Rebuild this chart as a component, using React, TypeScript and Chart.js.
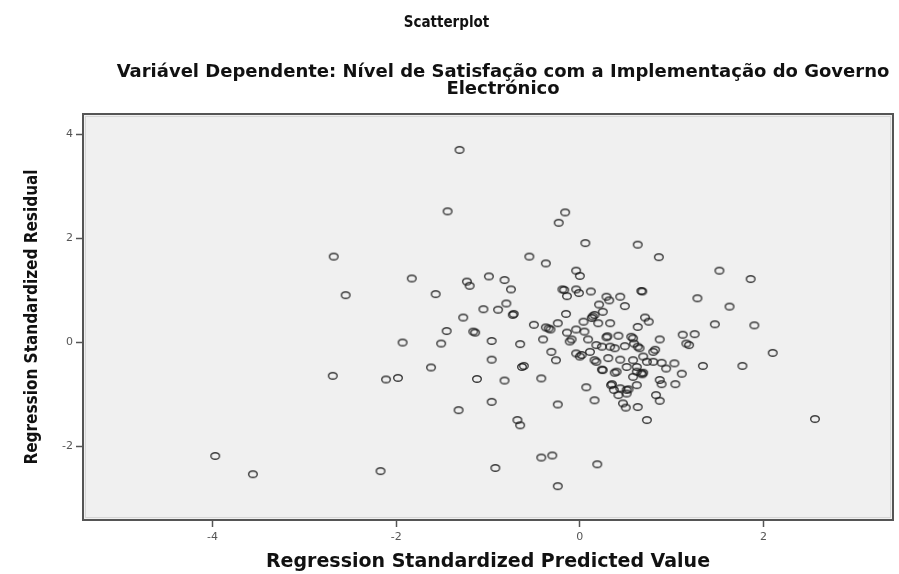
import React, { useEffect, useRef } from "react";
import { Chart, registerables } from "chart.js";

Chart.register(...registerables);

// Regression Standardized Predicted Value (x)
const predicted = [
  -3.97, -3.56, -2.68, -2.55, -2.69, -2.17, -2.11, -1.98, -1.93, -1.83,
  -1.62, -1.57, -1.51, -1.45, -1.44, -1.31, -1.32, -1.27, -1.23, -1.2,
  -1.16, -1.14, -1.12, -1.05, -0.99, -0.96, -0.96, -0.96, -0.92, -0.89,
  -0.82, -0.82, -0.8, -0.75, -0.72, -0.73, -0.68, -0.65, -0.65, -0.63,
  -0.61, -0.55, -0.5, -0.42, -0.42, -0.4, -0.37, -0.37, -0.34, -0.32,
  -0.31, -0.3, -0.26, -0.24, -0.24, -0.24, -0.23, -0.19, -0.17, -0.16,
  -0.15, -0.14, -0.14, -0.11, -0.09, -0.04, -0.04, -0.04, -0.04, 0.0,
  -0.01, 0.0, 0.02, 0.04, 0.05, 0.06, 0.07, 0.09, 0.11, 0.12,
  0.14, 0.16, 0.13, 0.16, 0.16, 0.18, 0.18, 0.19, 0.2, 0.21,
  0.24, 0.24, 0.25, 0.25, 0.29, 0.29, 0.3, 0.31, 0.32, 0.33,
  0.33, 0.34, 0.35, 0.37, 0.38, 0.38, 0.4, 0.42, 0.42, 0.44,
  0.44, 0.44, 0.47, 0.49, 0.49, 0.5, 0.51, 0.51, 0.51, 0.53,
  0.56, 0.58, 0.58, 0.58, 0.59, 0.62, 0.62, 0.62, 0.63, 0.63,
  0.63, 0.63, 0.65, 0.67, 0.68, 0.67, 0.68, 0.69, 0.69, 0.71,
  0.73, 0.73, 0.75, 0.8, 0.8, 0.82, 0.83, 0.86, 0.87, 0.87,
  0.87, 0.89, 0.89, 0.94, 1.03, 1.04, 1.11, 1.12, 1.16, 1.19,
  1.25, 1.28, 1.34, 1.47, 1.52, 1.63, 1.77, 1.86, 1.9, 2.1,
  2.56,
];

// Regression Standardized Residual (y)
const residual = [
  -2.18, -2.53, 1.65, 0.91, -0.64, -2.47, -0.71, -0.68, 0.0, 1.23,
  -0.48, 0.93, -0.02, 0.22, 2.52, 3.7, -1.3, 0.48, 1.17, 1.09,
  0.21, 0.19, -0.7, 0.64, 1.27, 0.03, -0.33, -1.14, -2.41, 0.63,
  1.2, -0.73, 0.75, 1.02, 0.55, 0.53, -1.49, -1.59, -0.03, -0.47,
  -0.45, 1.65, 0.34, -0.69, -2.21, 0.06, 1.52, 0.29, 0.27, 0.25,
  -0.18, -2.17, -0.34, 0.37, -1.19, -2.76, 2.3, 1.02, 1.01, 2.5,
  0.55, 0.89, 0.19, 0.02, 0.06, 1.38, 1.02, 0.25, -0.21, 1.28,
  0.95, -0.27, -0.24, 0.4, 0.21, 1.91, -0.86, 0.06, -0.18, 0.98,
  0.5, 0.53, 0.47, -0.34, -1.11, -0.05, -0.37, -2.34, 0.37, 0.73,
  -0.08, -0.52, 0.59, -0.53, 0.88, 0.1, 0.12, -0.3, 0.81, 0.37,
  -0.08, -0.82, -0.8, -0.91, -0.11, -0.58, -0.56, 0.13, -1.01, 0.88,
  -0.33, -0.88, -1.17, 0.7, -0.07, -1.25, -0.47, -0.91, -0.98, -0.9,
  0.11, 0.08, -0.34, -0.66, -0.02, -0.47, -0.56, -0.82, 1.88, 0.3,
  -0.08, -1.24, -0.11, 0.99, 0.98, -0.59, -0.61, -0.27, -0.58, 0.48,
  -0.37, -1.49, 0.4, -0.18, -0.37, -0.14, -1.01, 1.64, 0.06, -1.12,
  -0.72, -0.8, -0.39, -0.5, -0.4, -0.8, -0.6, 0.15, -0.02, -0.05,
  0.16, 0.85, -0.45, 0.35, 1.38, 0.69, -0.45, 1.22, 0.33, -0.2,
  -1.47,
];

const xTicks = [-4, -2, 0, 2];
const yTicks = [-2, 0, 2, 4];

const chartTitle = "Scatterplot";
const chartSubtitle = [
  "Variável Dependente: Nível de Satisfação com a Implementação do Governo",
  "Electrónico",
];
const xTitle = "Regression Standardized Predicted Value";
const yTitle = "Regression Standardized Residual";

const CONDENSED = "'DejaVu Sans Condensed', 'DejaVu Sans', sans-serif";
const WIDE = "'DejaVu Sans', Verdana, sans-serif";

function makeMarker(): HTMLCanvasElement {
  const c = document.createElement("canvas");
  c.width = 12;
  c.height = 10;
  const g = c.getContext("2d")!;
  g.strokeStyle = "rgba(25,25,25,0.85)";
  g.lineWidth = 1.4;
  g.beginPath();
  g.ellipse(6, 5, 4.3, 3.3, 0, 0, Math.PI * 2);
  g.stroke();
  return c;
}

const framePlugin = {
  id: "plotFrame",
  beforeDraw(chart: any) {
    const { ctx, chartArea } = chart;
    const { left, top, right, bottom } = chartArea;
    ctx.save();
    ctx.fillStyle = "#f0f0f0";
    ctx.fillRect(left, top, right - left, bottom - top);
    ctx.restore();
  },
  afterDraw(chart: any) {
    const { ctx, chartArea } = chart;
    const { left, top, right, bottom } = chartArea;
    ctx.save();
    ctx.strokeStyle = "#d6d6d6";
    ctx.lineWidth = 1;
    ctx.strokeRect(left + 2.5, top + 2.5, right - left - 5, bottom - top - 5);
    ctx.strokeStyle = "#555555";
    ctx.lineWidth = 2;
    ctx.strokeRect(left, top, right - left, bottom - top);
    ctx.restore();
  },
};

// Two-line subtitle, centred slightly right of the canvas centre as in the source image
const subtitlePlugin = {
  id: "offsetSubtitle",
  afterDraw(chart: any) {
    const { ctx } = chart;
    ctx.save();
    ctx.fillStyle = "#111";
    ctx.font = `bold 18px ${WIDE}`;
    ctx.textAlign = "center";
    ctx.textBaseline = "middle";
    const cx = 503;
    ctx.fillText(chartSubtitle[0], cx, 72);
    ctx.fillText(chartSubtitle[1], cx, 89);
    ctx.restore();
  },
};

export default function App() {
  const ref = useRef<HTMLCanvasElement | null>(null);

  useEffect(() => {
    if (!ref.current) return;
    const marker = makeMarker();
    const points = predicted.map((x, i) => ({ x, y: residual[i] }));
    const chart = new Chart(ref.current, {
      type: "scatter",
      data: {
        datasets: [
          {
            data: points,
            pointStyle: marker as any,
            pointRadius: 5,
            pointHoverRadius: 5,
            borderColor: "#222",
            backgroundColor: "rgba(0,0,0,0)",
          },
        ],
      },
      options: {
        responsive: false,
        animation: false,
        devicePixelRatio: 1,
        layout: { padding: { left: 0, right: 6, top: 0, bottom: 0 } },
        plugins: {
          legend: { display: false },
          tooltip: { enabled: false },
          title: {
            display: true,
            text: chartTitle,
            color: "#111",
            font: { family: CONDENSED, size: 15, weight: "bold", lineHeight: 1.2 },
            padding: { top: 14, bottom: 82 },
          },
          subtitle: { display: false },
        },
        scales: {
          x: {
            type: "linear",
            min: -5.41,
            max: 3.41,
            afterBuildTicks: (s: any) => {
              s.ticks = xTicks.map((v) => ({ value: v }));
            },
            afterFit: (s: any) => {
              s.height = 54;
            },
            border: { display: false },
            grid: {
              drawOnChartArea: false,
              drawTicks: true,
              tickLength: 7,
              tickColor: "#555",
              tickWidth: 1.5,
            },
            ticks: {
              color: "#555",
              padding: 4,
              maxRotation: 0,
              font: { family: WIDE, size: 11 },
            },
            title: {
              display: true,
              text: xTitle,
              color: "#111",
              font: { family: WIDE, size: 19, weight: "bold", lineHeight: 1.1 },
              padding: { top: 0, bottom: 1 },
            },
          },
          y: {
            type: "linear",
            min: -3.41,
            max: 4.39,
            afterBuildTicks: (s: any) => {
              s.ticks = yTicks.map((v) => ({ value: v }));
            },
            afterFit: (s: any) => {
              s.width = 83;
            },
            border: { display: false },
            grid: {
              drawOnChartArea: false,
              drawTicks: true,
              tickLength: 7,
              tickColor: "#555",
              tickWidth: 1.5,
            },
            ticks: {
              color: "#555",
              padding: 3,
              font: { family: WIDE, size: 11 },
            },
            title: {
              display: true,
              text: yTitle,
              color: "#111",
              font: { family: CONDENSED, size: 17, weight: "bold", lineHeight: 1.2 },
              padding: { top: 22, bottom: 0 },
            },
          },
        },
      },
      plugins: [framePlugin, subtitlePlugin],
    });
    return () => chart.destroy();
  }, []);

  return (
    <div style={{ position: "fixed", left: 0, top: 0, width: 899, height: 574, background: "#fff" }}>
      <canvas ref={ref} width={899} height={574} style={{ display: "block" }} />
    </div>
  );
}
